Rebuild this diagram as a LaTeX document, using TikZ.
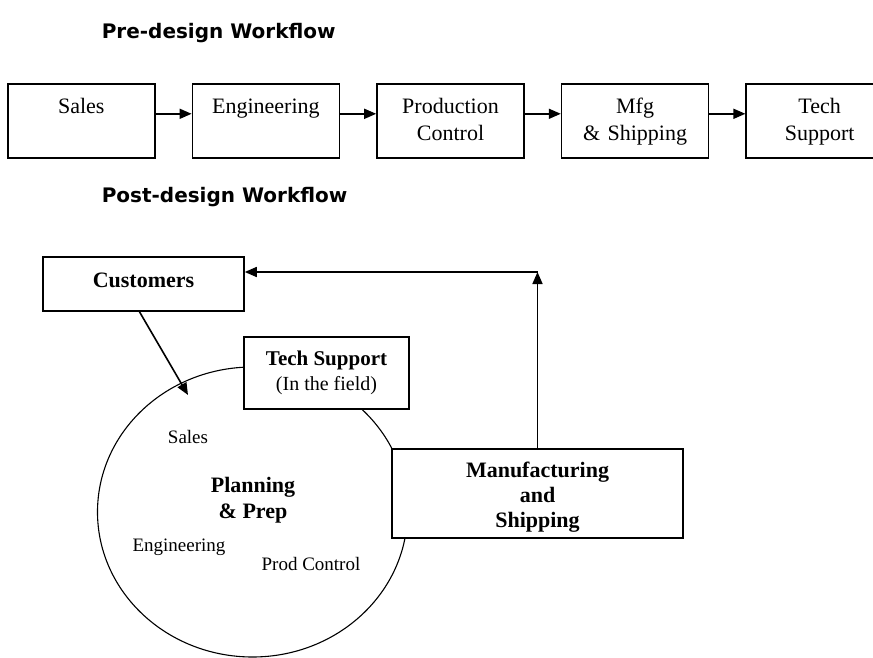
\documentclass[tikz,border=0pt]{standalone}
\usepackage{fontspec}
\setmainfont{Liberation Serif}
\newfontfamily\headfont{DejaVu Sans}
\usetikzlibrary{positioning,arrows.meta,shapes.geometric}

\begin{document}
\begin{tikzpicture}[x=1pt, y=-1pt, line width=1.6pt, >={Triangle[length=12pt,width=10pt]}]
\tikzset{node distance=36pt,
    block/.style={rectangle, draw, inner sep=0pt, text width=147pt, align=center,
        text height=30pt, text depth=44pt, font=\fontsize{22}{27}\selectfont},
    box/.style={rectangle, draw, fill=white, inner sep=0pt, align=center},
    heading/.style={anchor=west, inner sep=0pt, font=\headfont\bfseries\fontsize{20}{22}\selectfont},
    inner/.style={font=\fontsize{19}{22}\selectfont}
}
  \clip (0,0) rectangle (873,658);

  % pre-design row
  \node[heading] (pre) at (101,33) {Pre-design Workflow};
  \node[block, anchor=north west] (sales) at (7,83) {Sales};
  \node[block, right=of sales] (eng) {Engineering};
  \node[block, right=of eng] (prod) {Production\\Control};
  \node[block, right=of prod] (mfg) {Mfg\\\& Shipping};
  \node[block, right=of mfg] (tech) {Tech\\Support};
  \draw[->] ([yshift=7pt]sales.east) -- ([yshift=7pt]eng.west);
  \draw[->] ([yshift=7pt]eng.east) -- ([yshift=7pt]prod.west);
  \draw[->] ([yshift=7pt]prod.east) -- ([yshift=7pt]mfg.west);
  \draw[->] ([yshift=7pt]mfg.east) -- ([yshift=7pt]tech.west);

  % post-design cycle
  \node[heading] (post) at (101,197) {Post-design Workflow};
  \node[ellipse, draw, line width=1.1pt, minimum width=310pt, minimum height=290pt,
        inner sep=0pt] (plan) at (252.5,512) {};
  \node[box, minimum width=201pt, minimum height=54pt, text depth=8pt,
        font=\bfseries\fontsize{22}{26}\selectfont] (cust) at (143.5,284) {Customers};
  \node[box, minimum width=165pt, minimum height=72pt,
        font=\fontsize{20}{25}\selectfont] (field) at (326.5,373)
        {{\bfseries\fontsize{21}{25}\selectfont Tech Support}\\(In the field)};
  \node[box, minimum width=291pt, minimum height=89pt, text width=291pt, text height=23pt,
        font=\bfseries\fontsize{22}{25}\selectfont] (make) at (537.5,493.5)
        {Manufacturing\\and\\Shipping};
  \node[inner] (psales) at (188,437) {Sales};
  \node[align=center, font=\bfseries\fontsize{22}{26}\selectfont] (prep) at (253,500)
        {Planning\\\& Prep};
  \node[inner] (peng) at (179,547) {Engineering};
  \node[inner] (pctrl) at (311,564) {Prod Control};
  \coordinate (entry) at (188,395);
  \coordinate (turn) at (537.5,272);
  \draw[->] ([xshift=-4pt]cust.south) -- (entry);
  \draw[->] (make.north) -- (turn);
  \draw[->] (turn) -- (cust.east |- turn);
\end{tikzpicture}
\end{document}
